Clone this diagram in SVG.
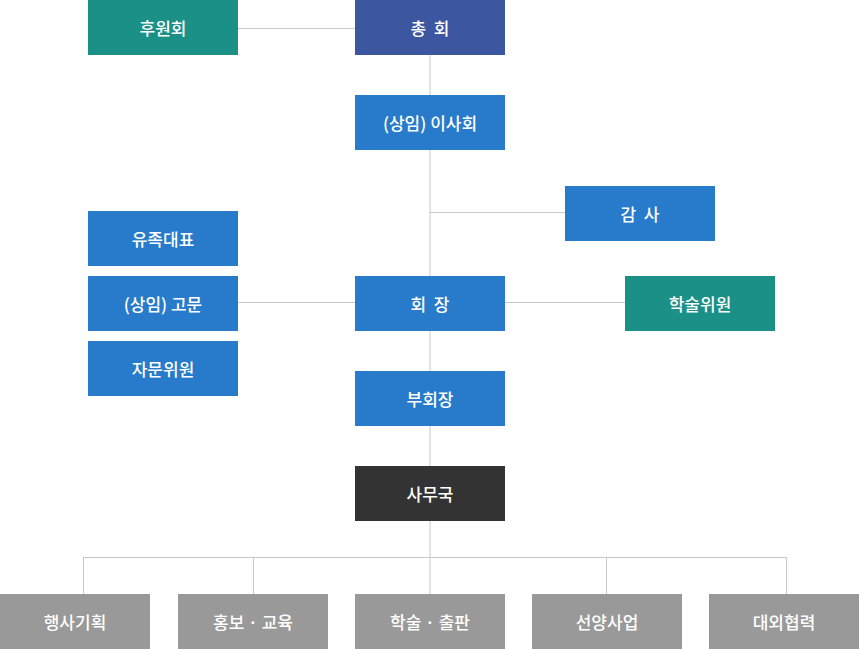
<svg xmlns="http://www.w3.org/2000/svg" width="859" height="649" viewBox="0 0 859 649">
<style>
.t{font-family:"Noto Sans CJK KR","Noto Sans",sans-serif;font-size:17px;font-weight:500;fill:#fff;text-anchor:middle;dominant-baseline:central}
.c line{stroke:#c8c8c8;stroke-width:1}
.teal{fill:#1b9087}.navy{fill:#3c56a0}.blue{fill:#277bca}.dark{fill:#333333}.gray{fill:#999999}
</style>
<rect width="859" height="649" fill="#fff"/>
<g class="c" id="connectors">
<line x1="430" y1="55" x2="430" y2="466"/>
<line x1="238" y1="28.5" x2="355" y2="28.5"/>
<line x1="430" y1="212.5" x2="565" y2="212.5"/>
<line x1="238" y1="302.5" x2="355" y2="302.5"/>
<line x1="505" y1="302.5" x2="625" y2="302.5"/>
<line x1="430" y1="521" x2="430" y2="594"/>
<line x1="83" y1="557.5" x2="787" y2="557.5"/>
<line x1="83.5" y1="557" x2="83.5" y2="594"/>
<line x1="253.5" y1="557" x2="253.5" y2="594"/>
<line x1="606.5" y1="557" x2="606.5" y2="594"/>
<line x1="786.5" y1="557" x2="786.5" y2="594"/>
</g>
<g id="n-huwon"><rect class="teal" x="88" y="0" width="150" height="55"/><text class="t" x="163" y="27.5">후원회</text></g>
<g id="n-chong"><rect class="navy" x="355" y="0" width="150" height="55"/><text class="t" x="430" y="27.5" xml:space="preserve">총  회</text></g>
<g id="n-isa"><rect class="blue" x="355" y="95" width="150" height="55"/><text class="t" x="430" y="122.5">(상임) 이사회</text></g>
<g id="n-gamsa"><rect class="blue" x="565" y="186" width="150" height="55"/><text class="t" x="640" y="213.5" xml:space="preserve">감  사</text></g>
<g id="n-yujok"><rect class="blue" x="88" y="211" width="150" height="55"/><text class="t" x="163" y="238.5">유족대표</text></g>
<g id="n-gomun"><rect class="blue" x="88" y="276" width="150" height="55"/><text class="t" x="163" y="303.5">(상임) 고문</text></g>
<g id="n-jamun"><rect class="blue" x="88" y="341" width="150" height="55"/><text class="t" x="163" y="368.5">자문위원</text></g>
<g id="n-hoejang"><rect class="blue" x="355" y="276" width="150" height="55"/><text class="t" x="430" y="303.5" xml:space="preserve">회  장</text></g>
<g id="n-haksul"><rect class="teal" x="625" y="276" width="150" height="55"/><text class="t" x="700" y="303.5">학술위원</text></g>
<g id="n-buhoe"><rect class="blue" x="355" y="371" width="150" height="55"/><text class="t" x="430" y="398.5">부회장</text></g>
<g id="n-samu"><rect class="dark" x="355" y="466" width="150" height="55"/><text class="t" x="430" y="493.5">사무국</text></g>
<g id="n-b1"><rect class="gray" x="0" y="594" width="150" height="55"/><text class="t" x="75" y="621.5">행사기획</text></g>
<g id="n-b2"><rect class="gray" x="178" y="594" width="150" height="55"/><text class="t" x="253" y="621.5">홍보 · 교육</text></g>
<g id="n-b3"><rect class="gray" x="355" y="594" width="150" height="55"/><text class="t" x="430" y="621.5">학술 · 출판</text></g>
<g id="n-b4"><rect class="gray" x="532" y="594" width="150" height="55"/><text class="t" x="607" y="621.5">선양사업</text></g>
<g id="n-b5"><rect class="gray" x="709" y="594" width="150" height="55"/><text class="t" x="784" y="621.5">대외협력</text></g>
</svg>
